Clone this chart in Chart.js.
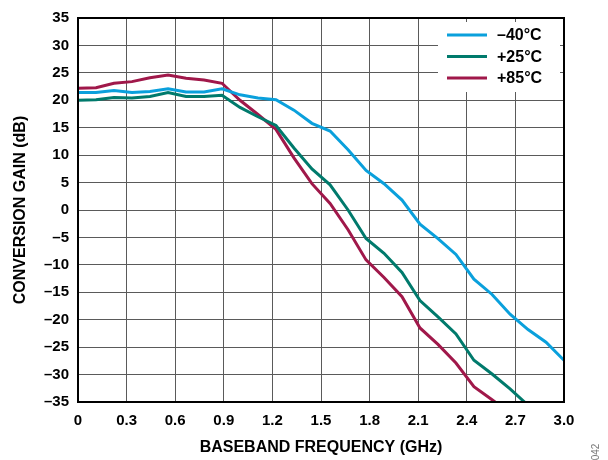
<!DOCTYPE html>
<html lang="en">
<head>
    <meta charset="UTF-8">
    <title>Conversion Gain vs Baseband Frequency</title>
    <script src="https://cdn.jsdelivr.net/npm/chart.js"></script>
    <style>
        html, body { margin: 0; padding: 0; background: #fff; }
        #wrap { width: 608px; height: 460px; position: relative; }
    </style>
</head>
<body>
    <div id="wrap"><canvas id="gainChart" width="608" height="460"></canvas></div>
    <script>
        // Baseband frequency (GHz) sample points
        const freqGHz = [0, 0.111, 0.222, 0.333, 0.444, 0.556, 0.667, 0.778, 0.889, 1.0,
            1.111, 1.222, 1.333, 1.444, 1.556, 1.667, 1.778, 1.889, 2.0, 2.111,
            2.222, 2.333, 2.444, 2.556, 2.667, 2.778, 2.889, 3.0];

        // Conversion gain (dB) per temperature
        const gainMinus40 = [21.4, 21.4, 21.8, 21.4, 21.6, 22.1, 21.5, 21.5, 22.1, 21.0,
            20.4, 20.1, 18.2, 15.8, 14.4, 11.0, 7.2, 4.8, 1.8, -2.6,
            -5.2, -8.1, -12.6, -15.4, -19.0, -21.8, -24.1, -27.4];
        const gainPlus25 = [20.0, 20.1, 20.5, 20.4, 20.7, 21.4, 20.7, 20.7, 20.9, 18.7,
            17.0, 15.4, 11.3, 7.5, 4.6, 0.0, -5.2, -7.9, -11.4, -16.5,
            -19.5, -22.6, -27.4, -29.9, -32.6, -35.6];
        const gainPlus85 = [22.2, 22.3, 23.1, 23.4, 24.1, 24.6, 24.0, 23.7, 23.1, 20.0,
            17.4, 14.7, 9.5, 4.8, 1.2, -3.6, -9.1, -12.3, -15.8, -21.5,
            -24.5, -27.9, -32.2, -34.6, -37.0];

        const seriesLabels = ['\u201340\u00B0C', '+25\u00B0C', '+85\u00B0C'];
        const seriesColors = ['#0aa0dc', '#007a6c', '#a0184a'];

        const toPoints = (vals) => vals.map((v, i) => ({ x: freqGHz[i], y: v }));
        const dash = (n) => String(n).replace('-', '\u2013');

        // frame, inline legend and the figure number
        const decorPlugin = {
            id: 'decor',
            afterDatasetsDraw(chart) {
                const ctx = chart.ctx;
                const a = chart.chartArea;
                ctx.save();
                // legend box (white, covers the grid)
                ctx.fillStyle = '#fff';
                ctx.fillRect(438, 22, 122, 70);
                ctx.font = 'bold 16px "Liberation Sans", Arial, sans-serif';
                ctx.textBaseline = 'middle';
                seriesLabels.forEach((lbl, i) => {
                    const y = 35 + i * 21.5;
                    ctx.strokeStyle = seriesColors[i];
                    ctx.lineWidth = 3;
                    ctx.beginPath();
                    ctx.moveTo(447, y);
                    ctx.lineTo(487, y);
                    ctx.stroke();
                    ctx.fillStyle = '#000';
                    ctx.fillText(lbl, 497, y + 1);
                });
                // plot frame
                ctx.strokeStyle = '#000';
                ctx.lineWidth = 2;
                ctx.strokeRect(a.left, a.top, a.right - a.left, a.bottom - a.top);
                // figure number
                ctx.translate(596, 452);
                ctx.rotate(-Math.PI / 2);
                ctx.font = '10px "Liberation Sans", Arial, sans-serif';
                ctx.fillStyle = '#777';
                ctx.textAlign = 'center';
                ctx.textBaseline = 'middle';
                ctx.fillText('042', 0, 0);
                ctx.restore();
            }
        };

        const tickFont = { family: '"Liberation Sans", Arial, sans-serif', size: 15, weight: 'bold' };
        const titleFont = { family: '"Liberation Sans", Arial, sans-serif', size: 16, weight: 'bold' };

        new Chart(document.getElementById('gainChart'), {
            type: 'line',
            data: {
                datasets: [gainMinus40, gainPlus25, gainPlus85].map((vals, i) => ({
                    label: seriesLabels[i],
                    data: toPoints(vals),
                    borderColor: seriesColors[i],
                    borderWidth: 3,
                    pointRadius: 0,
                    tension: 0,
                    fill: false,
                }))
            },
            options: {
                responsive: false,
                animation: false,
                layout: { padding: { left: 0, top: 13, right: 44, bottom: 0 } },
                plugins: {
                    legend: { display: false },
                    tooltip: { enabled: false },
                },
                scales: {
                    x: {
                        type: 'linear',
                        min: 0,
                        max: 3,
                        afterFit: (s) => { s.height = 58; },
                        afterBuildTicks: (s) => {
                            s.ticks = [0, 0.3, 0.6, 0.9, 1.2, 1.5, 1.8, 2.1, 2.4, 2.7, 3.0].map(v => ({ value: v }));
                        },
                        ticks: {
                            font: tickFont,
                            color: '#000',
                            padding: 10,
                            maxRotation: 0,
                            callback: (v) => v === 0 ? '0' : v.toFixed(1),
                        },
                        grid: { color: '#5a5a5a', lineWidth: 1, drawTicks: false },
                        border: { display: false },
                        title: {
                            display: true,
                            text: 'BASEBAND FREQUENCY (GHz)',
                            font: titleFont,
                            color: '#000',
                            padding: { top: 0, bottom: 3 },
                        },
                    },
                    y: {
                        min: -35,
                        max: 35,
                        afterFit: (s) => { s.width = 78; },
                        ticks: {
                            stepSize: 5,
                            font: tickFont,
                            color: '#000',
                            padding: 9,
                            callback: (v) => dash(v),
                        },
                        grid: { color: '#5a5a5a', lineWidth: 1, drawTicks: false },
                        border: { display: false },
                        title: {
                            display: true,
                            text: 'CONVERSION GAIN (dB)',
                            font: titleFont,
                            color: '#000',
                            padding: { top: 11, bottom: 0 },
                        },
                    },
                },
            },
            plugins: [decorPlugin],
        });
    </script>
</body>
</html>
